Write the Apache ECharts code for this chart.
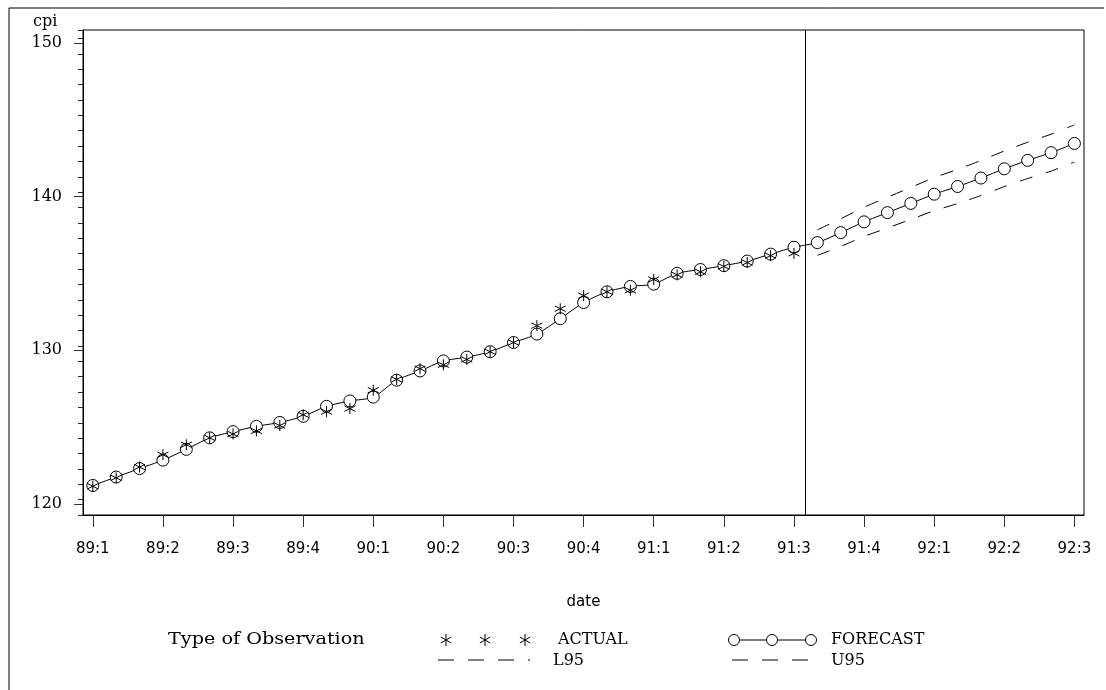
<!DOCTYPE html>
<html>
<head>
<meta charset="utf-8">
<script src="https://cdn.jsdelivr.net/npm/echarts@6/dist/echarts.min.js"></script>
<style>
html,body{margin:0;padding:0;background:#fff;}
#chart{width:1106px;height:690px;}
</style>
</head>
<body>
<div id="chart"></div>
<script>
// ---- data (monthly, index 0 = 89:1) ----
var quarterLabels = ['89:1','89:2','89:3','89:4','90:1','90:2','90:3','90:4','91:1','91:2','91:3','91:4','92:1','92:2','92:3'];
var forecast = [121.2,121.75,122.3,122.85,123.55,124.3,124.7,125.05,125.3,125.7,
                126.35,126.7,126.95,128.05,128.65,129.3,129.55,129.9,130.5,131.05,
                132.05,133.1,133.8,134.15,134.3,135.0,135.25,135.5,135.8,136.25,
                136.7,137.0,137.65,138.35,138.95,139.55,140.15,140.65,141.2,141.8,
                142.35,142.85,143.45];
var actual = [121.15,121.7,122.4,123.2,123.85,124.3,124.55,124.75,125.1,125.8,
              126.0,126.2,127.4,128.1,128.8,129.05,129.4,129.9,130.5,131.6,
              132.7,133.55,133.8,133.9,134.6,134.9,135.1,135.45,135.7,136.15,
              136.3];
var bandStart = 31;
var u95 = [137.83,138.55,139.30,139.95,140.59,141.23,141.76,142.34,142.96,143.53,144.05,144.66];
var l95 = [136.17,136.75,137.40,137.95,138.51,139.07,139.54,140.06,140.64,141.17,141.65,142.24];
var yMajor = [120,130,140,150];
var yMinor = [121,122,123,124,125,126,127,128,129,131,132,133,134,135,136,137,138,139,141,142,143,144,145,146,147,148,149];
var forecastEnd = 30.5;

function pairs(arr, start){ return arr.map(function(v,i){ return [start+i, v]; }); }
var xTicks = quarterLabels.map(function(l,i){ return i*3; });

var starPath = 'path://M5,0 L5,10 M0.67,2.5 L9.33,7.5 M0.67,7.5 L9.33,2.5';
var serif = 'DejaVu Serif';

var gridLeft = 83, gridRight = 22, chartWidth = 1106;
var plotWidth = chartWidth - gridLeft - gridRight;

// legend star glyph built from three strokes
function starGraphic(cx, cy){
  var r = 6, dx = 5.2, dy = 3;
  return [
    {type:'line', shape:{x1:cx, y1:cy-r, x2:cx, y2:cy+r}, style:{stroke:'#000', lineWidth:1}},
    {type:'line', shape:{x1:cx-dx, y1:cy-dy, x2:cx+dx, y2:cy+dy}, style:{stroke:'#000', lineWidth:1}},
    {type:'line', shape:{x1:cx-dx, y1:cy+dy, x2:cx+dx, y2:cy-dy}, style:{stroke:'#000', lineWidth:1}}
  ];
}

var graphics = [
  {type:'line', shape:{x1:9, y1:8, x2:1104, y2:8}, style:{stroke:'#000', lineWidth:1}},
  {type:'line', shape:{x1:9, y1:8, x2:9, y2:690}, style:{stroke:'#000', lineWidth:1}},
  {type:'text', x:33, y:22, style:{text:'cpi', font:'16px "DejaVu Serif"', fill:'#000', verticalAlign:'middle'}},
  {type:'text', x:168, y:640, scaleX:1.2, style:{text:'Type of Observation', font:'16px "DejaVu Serif"', fill:'#000', verticalAlign:'middle'}},
  {type:'text', x:558, y:640, style:{text:'ACTUAL', font:'16px "DejaVu Serif"', fill:'#000', verticalAlign:'middle'}},
  {type:'text', x:553, y:661, style:{text:'L95', font:'16px "DejaVu Serif"', fill:'#000', verticalAlign:'middle'}},
  {type:'text', x:831, y:640, style:{text:'FORECAST', font:'16px "DejaVu Serif"', fill:'#000', verticalAlign:'middle'}},
  {type:'text', x:831, y:661, style:{text:'U95', font:'16px "DejaVu Serif"', fill:'#000', verticalAlign:'middle'}},
  {type:'line', shape:{x1:438, y1:660, x2:530, y2:660}, style:{stroke:'#000', lineWidth:1, lineDash:[16,14]}},
  {type:'line', shape:{x1:732, y1:660, x2:813, y2:660}, style:{stroke:'#000', lineWidth:1, lineDash:[16,14]}},
  {type:'line', shape:{x1:728, y1:640, x2:816, y2:640}, style:{stroke:'#000', lineWidth:1}},
  {type:'circle', shape:{cx:734, cy:640, r:5.5}, style:{stroke:'#000', fill:'#fff', lineWidth:1}},
  {type:'circle', shape:{cx:772, cy:640, r:5.5}, style:{stroke:'#000', fill:'#fff', lineWidth:1}},
  {type:'circle', shape:{cx:811, cy:640, r:5.5}, style:{stroke:'#000', fill:'#fff', lineWidth:1}}
].concat(starGraphic(446,640), starGraphic(485,640), starGraphic(525,640));

var chart = echarts.init(document.getElementById('chart'), null, {renderer:'canvas'});
chart.setOption({
  animation: false,
  backgroundColor: '#fff',
  grid: {left:gridLeft, right:gridRight, top:30, bottom:175, show:true, borderColor:'#000', borderWidth:1, containLabel:false},
  xAxis: {
    type:'value', min:-0.42, max:42.41,
    name:'date', nameLocation:'middle', nameGap:80,
    nameTextStyle:{fontFamily:'DejaVu Sans', fontSize:15, color:'#000'},
    axisLine:{show:true, onZero:false, lineStyle:{color:'#000', width:1}},
    axisTick:{show:true, inside:false, length:12, customValues:xTicks, lineStyle:{color:'#333'}},
    axisLabel:{show:true, customValues:xTicks, margin:27, fontFamily:'DejaVu Sans', fontSize:15, color:'#000',
      formatter:function(v){ return quarterLabels[Math.round(v/3)]; }},
    splitLine:{show:false}
  },
  yAxis: [{
    type:'value', min:119.28, max:150.83, position:'left',
    axisLine:{show:true, onZero:false, lineStyle:{color:'#000', width:1}},
    axisTick:{show:true, inside:false, length:9, customValues:yMajor, lineStyle:{color:'#333'}},
    axisLabel:{show:true, customValues:yMajor, margin:21, fontFamily:serif, fontSize:16, color:'#000'},
    splitLine:{show:false}
  },{
    // minor ticks: a right-side axis shifted onto the left edge of the plot
    type:'value', min:119.28, max:150.83, interval:1, position:'right', offset:-plotWidth,
    axisLine:{show:true, onZero:false, lineStyle:{color:'#000', width:1}},
    axisTick:{show:true, inside:true, length:5, lineStyle:{color:'#222'}},
    axisLabel:{show:false},
    splitLine:{show:false}
  }],
  series: [
    {name:'FORECAST', type:'line', data:pairs(forecast,0), smooth:0.25,
     symbol:'circle', symbolSize:12, showAllSymbol:true,
     lineStyle:{color:'#000', width:1}, itemStyle:{color:'#fff', borderColor:'#000', borderWidth:1},
     z:2,
     markLine:{silent:true, symbol:'none', label:{show:false}, animation:false,
       lineStyle:{color:'#000', type:'solid', width:1}, data:[{xAxis:forecastEnd}]}},
    {name:'U95', type:'line', data:pairs(u95,bandStart), smooth:0.25, symbol:'none',
     lineStyle:{color:'#000', width:1, type:[13,14]}, z:2},
    {name:'L95', type:'line', data:pairs(l95,bandStart), smooth:0.25, symbol:'none',
     lineStyle:{color:'#000', width:1, type:[13,14]}, z:2},
    {name:'ACTUAL', type:'scatter', data:pairs(actual,0), symbol:starPath, symbolSize:11,
     itemStyle:{color:'none', borderColor:'#000', borderWidth:1, opacity:1}, z:3}
  ],
  graphic: graphics
});
</script>
</body>
</html>
